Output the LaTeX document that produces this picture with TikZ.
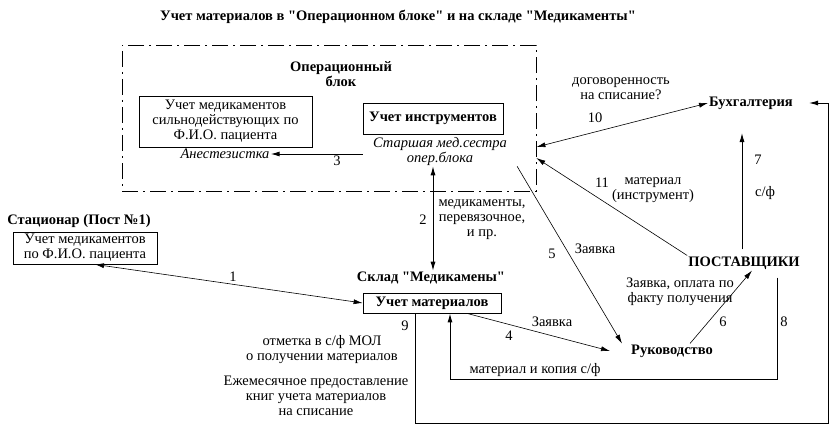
\documentclass[tikz,border=0pt]{standalone}
\usepackage{fontspec}
\setmainfont{Liberation Serif}[Ligatures=TeXOff]
\usetikzlibrary{arrows.meta}
\newcommand\nf{\fontsize{14.5}{15}\selectfont}
\tikzset{
  box/.style={draw, line width=0.8pt, align=center, inner sep=2pt, font=\nf},
  lbl/.style={align=center, inner sep=1pt, font=\nf},
  head/.style={font=\nf\bfseries, align=center, inner sep=1pt},
  ital/.style={font=\nf\itshape, align=center, inner sep=1pt},
  conn/.style={-{Latex[length=9pt,width=5pt]}, line width=0.6pt},
  dconn/.style={{Latex[length=9pt,width=5pt]}-{Latex[length=9pt,width=5pt]}, line width=0.6pt},
  link/.style={-{Latex[length=9pt,width=5pt]}, line width=1pt},
  dlink/.style={{Latex[length=9pt,width=5pt]}-{Latex[length=9pt,width=5pt]}, line width=1pt},
  opframe/.style={draw, line width=0.8pt, dash pattern=on 16pt off 5pt on 2pt off 5pt},
}
\begin{document}
\begin{tikzpicture}[x=1pt, y=-1pt]
	\useasboundingbox (0,0) rectangle (833,428);

	% operating block
	\node[opframe, minimum width=414pt, minimum height=146pt] (op) at (329,118) {};
	\node[head] (opname) at (341,74) {Операционный\\блок};
	\node[box, minimum width=173pt, minimum height=51pt] (medbox) at (225.5,121.5) {Учет медикаментов\\сильнодействующих по\\Ф.И.О. пациента};
	\node[ital] (anest) at (225,154) {Анестезистка};
	\node[box, font=\nf\bfseries, minimum width=140pt, minimum height=31pt] (instr) at (433,118.5) {Учет инструментов};
	\node[ital, inner sep=0pt] (senior) at (440,152) {Старшая мед.сестра\\опер.блока};

	% other departments
	\node[head] (title) at (398,17) {Учет материалов в "Операционном блоке" и на складе "Медикаменты"};
	\node[head] (stac) at (79,221) {Стационар (Пост №1)};
	\node[box, minimum width=144pt, minimum height=32pt] (stacbox) at (85,248) {Учет медикаментов\\по Ф.И.О. пациента};
	\node[head] (sklad) at (431,278) {Склад "Медикамены"};
	\node[box, font=\nf\bfseries, minimum width=138pt, minimum height=20pt, inner sep=0pt] (matbox) at (432,303) {Учет материалов};
	\node[head] (rukov) at (672,351) {Руководство};
	\node[head] (postav) at (744,263) {ПОСТАВЩИКИ};
	\node[head] (buh) at (751,103) {Бухгалтерия};

	% connectors
	\coordinate (c7) at (742,133);
	\coordinate (c9) at (828,423);
	\draw[dconn] ([xshift=10pt]stacbox.south) -- (matbox.west);
	\draw[dlink] (instr.south |- senior.south) -- (instr.south |- sklad.north);
	\draw[link] (instr.west |- anest.east) -- (anest.east);
	\draw[conn] ([xshift=35pt]matbox.south) -- ([xshift=-20pt]rukov.west);
	\draw[conn] ([xshift=10pt]senior.south east) -- ([xshift=-8pt]rukov.north west);
	\draw[conn] ([xshift=18pt]rukov.north) -- ([xshift=8pt]postav.south);
	\draw[link] (c7 |- postav.north) ++(0,-6) -- (c7);
	\draw[link] ([xshift=33pt,yshift=-7pt]postav.south) -- ++(0,102) -| ([xshift=18pt]matbox.south);
	\draw[link] ([xshift=-17pt]matbox.south) |- (c9) |- ([xshift=15pt]buh.east);
	\draw[dconn] ([yshift=-29pt]op.east) -- (buh.west);
	\draw[conn] (postav.north west) -- ([yshift=-40pt]op.east);

	% labels
	\node[lbl] (n1) at (233,277) {1};
	\node[lbl] (n2) at (423,220) {2};
	\node[lbl] (n2t) at (482,220) {медикаменты,\\перевязочное,\\и пр.};
	\node[lbl] (n3) at (337,161) {3};
	\node[lbl] (n4) at (509,336) {4};
	\node[lbl] (n4t) at (552,322) {Заявка};
	\node[lbl] (n5) at (552,254) {5};
	\node[lbl] (n5t) at (595,249) {Заявка};
	\node[lbl] (n6) at (723,322) {6};
	\node[lbl] (n6t) at (680,292) {Заявка, оплата по\\факту получения};
	\node[lbl] (n7) at (758,160) {7};
	\node[lbl] (n7t) at (765,193) {с/ф};
	\node[lbl] (n8) at (784,322) {8};
	\node[lbl] (n8t) at (535,370) {материал и копия с/ф};
	\node[lbl] (n9) at (405,326) {9};
	\node[lbl] (n9a) at (322,350) {отметка в с/ф МОЛ\\о получении материалов};
	\node[lbl] (n9b) at (316,396) {Ежемесячное предоставление\\книг учета материалов\\на списание};
	\node[lbl] (n10) at (595,118) {10};
	\node[lbl] (n10t) at (621,89) {договоренность\\на списание?};
	\node[lbl] (n11) at (602,183) {11};
	\node[lbl] (n11t) at (653,190) {материал\\(инструмент)};
\end{tikzpicture}
\end{document}
